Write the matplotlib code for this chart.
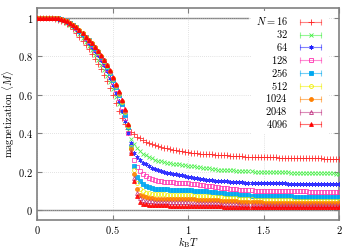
import matplotlib
matplotlib.use('Agg')
import matplotlib.pyplot as plt
import numpy as np
from matplotlib.lines import Line2D
from matplotlib.legend_handler import HandlerLine2D, HandlerTuple
from matplotlib.ticker import FuncFormatter

plt.rcParams['mathtext.fontset'] = 'cm'
plt.rcParams['font.family'] = ['DejaVu Serif']
plt.rcParams['font.size'] = 7.5

# temperature grid, step 0.02
temps = np.linspace(0, 2, 101)

sizes = [16, 32, 64, 128, 256, 512, 1024, 2048, 4096]

m16 = [1.000, 1.000, 1.000, 0.999, 0.998, 0.996, 0.993, 0.989, 0.984, 0.977,
       0.968, 0.955, 0.940, 0.922, 0.902, 0.881, 0.859, 0.836, 0.812, 0.787,
       0.761, 0.733, 0.703, 0.670, 0.635, 0.598, 0.558, 0.518, 0.480, 0.448,
       0.423, 0.407, 0.394, 0.383, 0.373, 0.364, 0.356, 0.349, 0.343, 0.338,
       0.333, 0.329, 0.325, 0.321, 0.318, 0.315, 0.312, 0.309, 0.306, 0.304,
       0.302, 0.300, 0.298, 0.296, 0.295, 0.293, 0.292, 0.291, 0.290, 0.289,
       0.288, 0.287, 0.286, 0.285, 0.284, 0.283, 0.282, 0.281, 0.280, 0.279,
       0.279, 0.278, 0.278, 0.277, 0.277, 0.276, 0.276, 0.275, 0.275, 0.275,
       0.274, 0.274, 0.274, 0.273, 0.273, 0.273, 0.272, 0.272, 0.272, 0.271,
       0.271, 0.271, 0.270, 0.270, 0.270, 0.269, 0.269, 0.268, 0.268, 0.267,
       0.267]
m32 = [1.000, 1.000, 1.000, 1.000, 0.999, 0.998, 0.996, 0.993, 0.988, 0.982,
       0.974, 0.963, 0.950, 0.934, 0.916, 0.896, 0.875, 0.853, 0.830, 0.806,
       0.781, 0.755, 0.727, 0.697, 0.664, 0.628, 0.590, 0.550, 0.508, 0.462,
       0.415, 0.372, 0.345, 0.322, 0.307, 0.295, 0.285, 0.277, 0.270, 0.263,
       0.257, 0.254, 0.251, 0.248, 0.245, 0.243, 0.240, 0.238, 0.236, 0.234,
       0.232, 0.230, 0.228, 0.226, 0.224, 0.222, 0.220, 0.218, 0.216, 0.214,
       0.212, 0.211, 0.210, 0.209, 0.208, 0.207, 0.206, 0.205, 0.204, 0.203,
       0.202, 0.202, 0.201, 0.201, 0.200, 0.200, 0.199, 0.199, 0.198, 0.198,
       0.198, 0.197, 0.197, 0.197, 0.196, 0.196, 0.196, 0.195, 0.195, 0.195,
       0.194, 0.194, 0.194, 0.193, 0.193, 0.193, 0.192, 0.192, 0.192, 0.191,
       0.191]
m64 = [1.000, 1.000, 1.000, 1.000, 1.000, 0.999, 0.997, 0.995, 0.991, 0.986,
       0.979, 0.970, 0.958, 0.943, 0.926, 0.908, 0.889, 0.870, 0.849, 0.827,
       0.804, 0.779, 0.752, 0.722, 0.689, 0.651, 0.611, 0.567, 0.518, 0.462,
       0.400, 0.350, 0.300, 0.275, 0.260, 0.248, 0.238, 0.228, 0.220, 0.213,
       0.207, 0.203, 0.199, 0.196, 0.193, 0.190, 0.187, 0.184, 0.181, 0.178,
       0.175, 0.172, 0.170, 0.167, 0.164, 0.162, 0.160, 0.158, 0.156, 0.154,
       0.153, 0.152, 0.151, 0.150, 0.149, 0.148, 0.147, 0.146, 0.145, 0.144,
       0.143, 0.143, 0.142, 0.142, 0.142, 0.141, 0.141, 0.141, 0.140, 0.140,
       0.140, 0.140, 0.140, 0.139, 0.139, 0.139, 0.139, 0.139, 0.138, 0.138,
       0.138, 0.138, 0.138, 0.138, 0.137, 0.137, 0.137, 0.137, 0.137, 0.137,
       0.137]
m128 = [1.000, 1.000, 1.000, 1.000, 1.000, 0.999, 0.998, 0.996, 0.992, 0.988,
        0.981, 0.972, 0.961, 0.947, 0.930, 0.913, 0.895, 0.877, 0.857, 0.836,
        0.814, 0.790, 0.764, 0.736, 0.704, 0.667, 0.628, 0.585, 0.537, 0.480,
        0.400, 0.330, 0.260, 0.225, 0.203, 0.188, 0.177, 0.168, 0.162, 0.157,
        0.153, 0.151, 0.149, 0.147, 0.146, 0.145, 0.144, 0.143, 0.142, 0.141,
        0.140, 0.139, 0.137, 0.135, 0.133, 0.131, 0.129, 0.127, 0.125, 0.123,
        0.120, 0.118, 0.117, 0.115, 0.113, 0.112, 0.110, 0.108, 0.107, 0.106,
        0.105, 0.104, 0.103, 0.102, 0.102, 0.101, 0.101, 0.100, 0.100, 0.099,
        0.099, 0.099, 0.099, 0.099, 0.099, 0.098, 0.098, 0.098, 0.098, 0.098,
        0.097, 0.097, 0.097, 0.097, 0.097, 0.096, 0.096, 0.096, 0.096, 0.096,
        0.096]
m256 = [1.000, 1.000, 1.000, 1.000, 1.000, 0.999, 0.998, 0.996, 0.992, 0.988,
        0.982, 0.974, 0.963, 0.950, 0.933, 0.916, 0.899, 0.882, 0.863, 0.843,
        0.822, 0.798, 0.773, 0.746, 0.715, 0.678, 0.640, 0.598, 0.550, 0.495,
        0.430, 0.330, 0.230, 0.175, 0.151, 0.137, 0.127, 0.120, 0.116, 0.113,
        0.111, 0.110, 0.109, 0.109, 0.108, 0.108, 0.107, 0.107, 0.106, 0.106,
        0.105, 0.104, 0.103, 0.102, 0.100, 0.099, 0.098, 0.096, 0.095, 0.093,
        0.092, 0.090, 0.089, 0.087, 0.086, 0.084, 0.083, 0.082, 0.080, 0.079,
        0.078, 0.077, 0.076, 0.075, 0.075, 0.074, 0.073, 0.073, 0.072, 0.072,
        0.072, 0.072, 0.072, 0.072, 0.072, 0.071, 0.071, 0.071, 0.071, 0.071,
        0.071, 0.071, 0.071, 0.070, 0.070, 0.070, 0.070, 0.070, 0.070, 0.070,
        0.070]
m512 = [1.000, 1.000, 1.000, 1.000, 1.000, 0.999, 0.998, 0.996, 0.992, 0.988,
        0.982, 0.974, 0.963, 0.950, 0.934, 0.918, 0.901, 0.885, 0.866, 0.847,
        0.824, 0.800, 0.776, 0.750, 0.719, 0.683, 0.645, 0.605, 0.560, 0.508,
        0.440, 0.330, 0.210, 0.140, 0.111, 0.100, 0.092, 0.088, 0.086, 0.085,
        0.084, 0.083, 0.083, 0.082, 0.082, 0.081, 0.081, 0.080, 0.080, 0.079,
        0.078, 0.078, 0.077, 0.076, 0.075, 0.074, 0.073, 0.072, 0.070, 0.069,
        0.068, 0.067, 0.066, 0.065, 0.064, 0.063, 0.062, 0.061, 0.060, 0.058,
        0.057, 0.057, 0.056, 0.055, 0.055, 0.054, 0.054, 0.053, 0.053, 0.053,
        0.052, 0.052, 0.052, 0.052, 0.052, 0.051, 0.051, 0.051, 0.051, 0.051,
        0.051, 0.051, 0.051, 0.050, 0.050, 0.050, 0.050, 0.050, 0.050, 0.050,
        0.050]
m1024 = [1.000, 1.000, 1.000, 1.000, 1.000, 0.999, 0.998, 0.996, 0.992, 0.988,
         0.982, 0.974, 0.963, 0.950, 0.934, 0.918, 0.901, 0.885, 0.866, 0.847,
         0.825, 0.802, 0.778, 0.752, 0.722, 0.686, 0.649, 0.610, 0.566, 0.515,
         0.445, 0.320, 0.190, 0.112, 0.081, 0.072, 0.067, 0.064, 0.062, 0.061,
         0.060, 0.060, 0.060, 0.059, 0.059, 0.059, 0.059, 0.058, 0.058, 0.058,
         0.058, 0.057, 0.057, 0.056, 0.056, 0.055, 0.055, 0.054, 0.053, 0.053,
         0.052, 0.051, 0.050, 0.049, 0.048, 0.047, 0.046, 0.045, 0.044, 0.044,
         0.043, 0.042, 0.042, 0.041, 0.041, 0.040, 0.040, 0.040, 0.039, 0.039,
         0.039, 0.039, 0.039, 0.039, 0.039, 0.039, 0.039, 0.039, 0.039, 0.039,
         0.038, 0.038, 0.038, 0.038, 0.038, 0.038, 0.038, 0.038, 0.038, 0.038,
         0.038]
m2048 = [1.000, 1.000, 1.000, 1.000, 1.000, 0.999, 0.998, 0.996, 0.992, 0.988,
         0.982, 0.974, 0.963, 0.950, 0.934, 0.918, 0.901, 0.885, 0.866, 0.847,
         0.826, 0.803, 0.780, 0.754, 0.724, 0.688, 0.652, 0.614, 0.571, 0.520,
         0.450, 0.310, 0.170, 0.092, 0.062, 0.053, 0.049, 0.047, 0.046, 0.045,
         0.044, 0.044, 0.043, 0.043, 0.043, 0.042, 0.042, 0.042, 0.041, 0.041,
         0.041, 0.040, 0.040, 0.039, 0.039, 0.038, 0.038, 0.037, 0.037, 0.036,
         0.036, 0.035, 0.034, 0.034, 0.033, 0.032, 0.032, 0.031, 0.030, 0.030,
         0.029, 0.029, 0.028, 0.028, 0.028, 0.027, 0.027, 0.027, 0.027, 0.027,
         0.027, 0.027, 0.027, 0.027, 0.027, 0.027, 0.027, 0.027, 0.027, 0.027,
         0.026, 0.026, 0.026, 0.026, 0.026, 0.026, 0.026, 0.026, 0.026, 0.026,
         0.026]
m4096 = [1.000, 1.000, 1.000, 1.000, 1.000, 0.999, 0.998, 0.996, 0.992, 0.988,
         0.982, 0.974, 0.963, 0.950, 0.934, 0.918, 0.901, 0.885, 0.866, 0.847,
         0.827, 0.804, 0.781, 0.756, 0.726, 0.690, 0.655, 0.617, 0.575, 0.525,
         0.450, 0.300, 0.150, 0.075, 0.042, 0.034, 0.031, 0.029, 0.028, 0.027,
         0.027, 0.026, 0.026, 0.026, 0.025, 0.025, 0.025, 0.025, 0.024, 0.024,
         0.024, 0.024, 0.023, 0.023, 0.023, 0.022, 0.022, 0.022, 0.021, 0.021,
         0.021, 0.021, 0.020, 0.020, 0.020, 0.020, 0.019, 0.019, 0.019, 0.019,
         0.019, 0.018, 0.018, 0.018, 0.018, 0.018, 0.018, 0.018, 0.018, 0.018,
         0.018, 0.018, 0.018, 0.018, 0.018, 0.018, 0.018, 0.018, 0.018, 0.018,
         0.018, 0.018, 0.018, 0.018, 0.018, 0.018, 0.018, 0.018, 0.018, 0.018,
         0.018]

series = [m16, m32, m64, m128, m256, m512, m1024, m2048, m4096]

# gnuplot-like point styles
colors = ['#ff2020', '#40f040', '#2020ff', '#ff30b0', '#00a8f0',
          '#f0f000', '#ff8000', '#c03080', '#ff0000']
markers = ['+', 'x', (6, 2, 0), 's', 's', 'o', 'o', '^', '^']
filled = [True, True, True, False, True, False, True, False, True]
msizes = [3.8, 2.4, 3.0, 2.8, 2.8, 2.8, 2.8, 2.8, 2.8]

fig = plt.figure(figsize=(3.58, 2.5), dpi=100)
ax = fig.add_axes([0.104, 0.12, 0.843, 0.848])

gray = '#808080'
ax.axhline(0, color=gray, lw=1.0, zorder=1)
ax.axhline(1, xmax=0.70, color=gray, lw=1.0, zorder=1)

handles = []
handler_map = {tuple: HandlerTuple(ndivide=1, pad=0)}
for n, m, c, mk, fl, ms in zip(sizes, series, colors, markers, filled, msizes):
    face = c if fl else 'none'
    ax.plot(temps, m, linestyle='none', marker=mk, ms=ms, mew=0.6,
            mec=c, mfc=face, alpha=0.9, zorder=3)
    bar = Line2D([], [], color=c, alpha=0.55, lw=0.8, marker='|', ms=5, mew=0.8)
    pt = Line2D([], [], linestyle='none', marker=mk, ms=ms, mew=0.6,
                mec=c, mfc=face)
    handler_map[pt] = HandlerLine2D(numpoints=1)
    handles.append((bar, pt))

labels = ['$N = %d$' % sizes[0]] + ['$%d$' % n for n in sizes[1:]]
leg = ax.legend(handles, labels, handler_map=handler_map, loc='upper right',
                bbox_to_anchor=(0.965, 0.985), markerfirst=False, numpoints=2,
                handlelength=2.6, handletextpad=0.9, labelspacing=0.08,
                borderpad=0.4, borderaxespad=0, frameon=True, fancybox=False,
                fontsize=7.5)
leg.get_frame().set_facecolor('white')
leg.get_frame().set_edgecolor('none')
leg.get_frame().set_alpha(1)

ax.set_xlim(0, 2)
ax.set_ylim(-0.05, 1.05)
ax.set_xticks([0, 0.5, 1, 1.5, 2])
ax.set_yticks([0, 0.2, 0.4, 0.6, 0.8, 1])
fmt = FuncFormatter(lambda v, p: '$%g$' % v)
ax.xaxis.set_major_formatter(fmt)
ax.yaxis.set_major_formatter(fmt)
ax.tick_params(direction='in', length=3.5, width=0.8, color=gray,
               top=True, right=True, labelsize=7.5, pad=3)
ax.grid(True, color='#c8c8c8', lw=0.5, linestyle=(0, (1, 2)))
for s in ax.spines.values():
    s.set_color(gray)
    s.set_linewidth(1.2)

ax.set_xlabel(r'$k_\mathrm{B}T$', fontsize=7.5)
ax.xaxis.set_label_coords(0.5, -0.07)
ax.set_ylabel(r'$\mathrm{magnetization}\ \langle M\rangle$', fontsize=7.5)
ax.yaxis.set_label_coords(-0.066, 0.5)

fig.savefig('out.png', dpi=100)
